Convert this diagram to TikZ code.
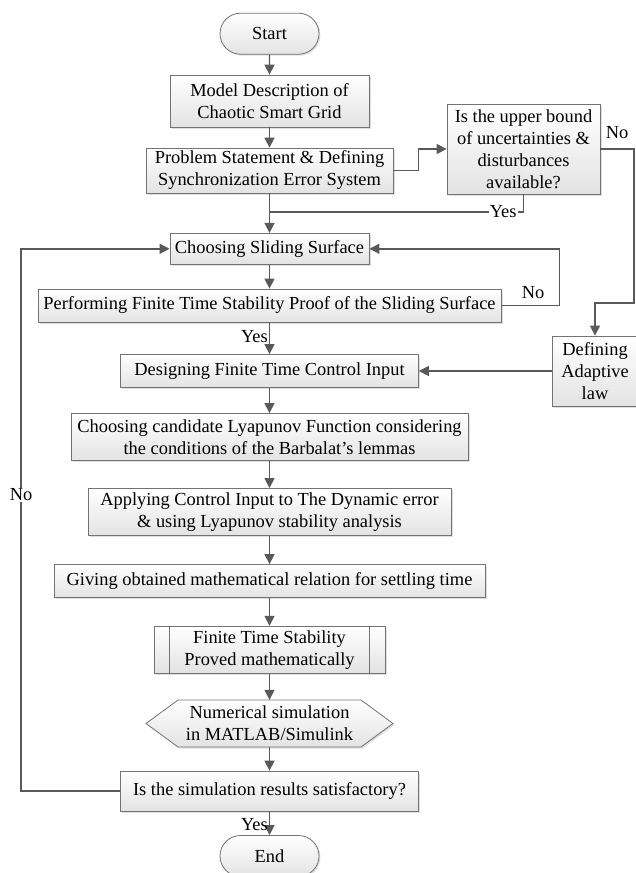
\documentclass[tikz,border=0pt]{standalone}
\usepackage{fontspec}
\setmainfont{Liberation Serif}
\usetikzlibrary{arrows.meta,shapes.misc,shadows}
\tikzset{
  box/.style={draw=black!55, line width=0.8pt, top color=white, bottom color=black!11,
    drop shadow={opacity=0.25, shadow xshift=1.5pt, shadow yshift=-1.5pt},
    rectangle, inner sep=0pt, align=center, text=black},
  term/.style={box, rounded rectangle},
  arr/.style={draw=black!65, line width=1.4pt, -{Triangle[length=10pt,width=10pt]}},
  ln/.style={draw=black!65, line width=1.4pt},
  lbl/.style={fill=white, inner sep=1pt}
}
\begin{document}
\begin{tikzpicture}[x=1pt, y=-1pt, font=\fontsize{18.4}{22}\selectfont]
\useasboundingbox (0,0) rectangle (635,873);
% main column
\node[term, minimum width=99, minimum height=41] (start) at (269.5,33.7) {Start};
\node[box, minimum width=199, minimum height=52] (model) at (269.5,101) {Model Description of\\Chaotic Smart Grid};
\node[box, minimum width=247, minimum height=45] (prob) at (269.5,170.5) {Problem Statement \& Defining\\Synchronization Error System};
\node[box, minimum width=153, minimum height=90] (upper) at (523.5,149) {Is the upper bound\\of uncertainties \&\\disturbances\\available?};
\node[box, minimum width=199, minimum height=31] (choose) at (269.5,248.8) {Choosing Sliding Surface};
\node[box, minimum width=463, minimum height=33] (proof) at (269.5,305.5) {Performing Finite Time Stability Proof of the Sliding Surface};
\node[box, minimum width=298, minimum height=33] (design) at (269.5,371) {Designing Finite Time Control Input};
\node[box, minimum width=86, minimum height=70] (adapt) at (595,371) {Defining\\Adaptive\\law};
\node[box, minimum width=397, minimum height=47] (lyap) at (269.5,437) {Choosing candidate Lyapunov Function considering\\the conditions of the Barbalat's lemmas};
\node[box, minimum width=363, minimum height=47] (apply) at (269.5,512) {Applying Control Input to The Dynamic error\\\& using Lyapunov stability analysis};
\node[box, minimum width=431, minimum height=33] (settle) at (269.5,581) {Giving obtained mathematical relation for settling time};
\node[box, minimum width=231, minimum height=47] (proved) at (269.5,649.7) {Finite Time Stability\\Proved mathematically};
\draw[draw=black!55, line width=0.8pt] ([xshift=16pt]proved.north west) -- ([xshift=16pt]proved.south west)
  ([xshift=-16pt]proved.north east) -- ([xshift=-16pt]proved.south east);
% hexagon
\path[box] (146,723.5) -- (178,700) -- (361,700) -- (393,723.5) -- (361,747) -- (178,747) -- cycle;
\node[minimum width=247, minimum height=47, inner sep=0pt, align=center] (sim) at (269.5,723.5) {Numerical simulation\\in MATLAB/Simulink};
\node[box, minimum width=298, minimum height=40] (result) at (269.5,791) {Is the simulation results satisfactory?};
\node[term, minimum width=99, minimum height=41] (stop) at (269.5,856) {End};
% connectors
\coordinate (join) at (269.5,212);
\draw[arr] (start) -- (model);
\draw[arr] (model) -- (prob);
\draw[arr] (prob.east) -- ++(25,0) |- (upper.west);
\draw[ln] (upper.south) |- (join) node[lbl, pos=0.54] {Yes};
\draw[arr] (prob) -- (choose);
\draw[arr] (upper.east) -- (634,149) -- (634,303) -| (adapt.north);
\node at (617,133) {No};
\draw[arr] (choose) -- (proof);
\draw[arr] (proof.east) -- ++(58,0) |- (choose.east);
\node at (533,293) {No};
\draw[arr] (proof) -- (design) node[midway, left, inner sep=1pt, yshift=2pt] {Yes};
\draw[arr] (adapt) -- (design);
\draw[arr] (design) -- (lyap);
\draw[arr] (lyap) -- (apply);
\draw[arr] (apply) -- (settle);
\draw[arr] (settle) -- (proved);
\draw[arr] (proved) -- (sim.north);
\draw[arr] (sim.south) -- (result);
\draw[arr] (result.west) -- (21,791) -- (21,248.8) -- (choose.west);
\node[lbl] (leftno) at (21,495) {No};
\draw[arr] (result) -- (stop) node[midway, left, inner sep=1pt, yshift=-1pt] {Yes};
\end{tikzpicture}
\end{document}
